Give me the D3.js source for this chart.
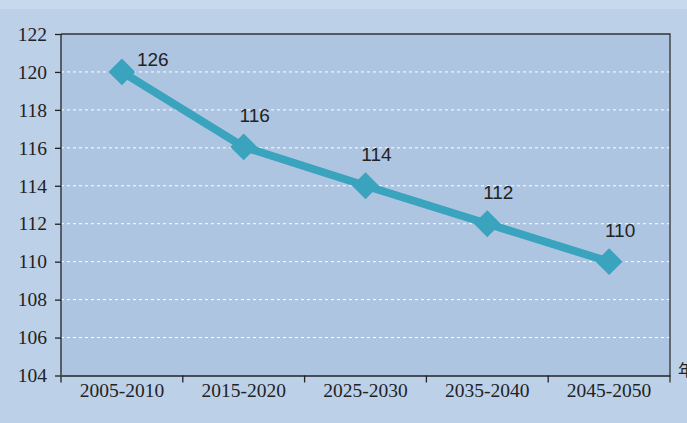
<!DOCTYPE html>
<html>
<head>
<meta charset="utf-8">
<script src="https://cdn.jsdelivr.net/npm/d3@7"></script>
<style>
  body { margin: 0; background: #bcd0e8; }
  svg { display: block; }
</style>
</head>
<body>
<div id="chart"></div>
<script>
// 1. SETUP
const width = 687;
const height = 423;
const margin = { top: 34, right: 17, bottom: 47.5, left: 61 };

// DATA
const periods = ["2005-2010", "2015-2020", "2025-2030", "2035-2040", "2045-2050"];
const values = [120, 116.05, 114, 112, 110];
const pointLabels = ["126", "116", "114", "112", "110"];
const yTicks = [104, 106, 108, 110, 112, 114, 116, 118, 120, 122];
const xUnit = "年";

const svg = d3.select("#chart")
    .append("svg")
    .attr("width", width)
    .attr("height", height)
    .attr("viewBox", [0, 0, width, height]);

// background + lighter top band
svg.append("rect").attr("width", width).attr("height", height).attr("fill", "#bcd0e8");
svg.append("rect").attr("width", width).attr("height", 9).attr("fill", "#c7d9ec");

// --- SCALES ---
const x = d3.scaleBand()
    .domain(periods)
    .range([margin.left, width - margin.right])
    .padding(0);

const y = d3.scaleLinear()
    .domain([104, 122])
    .range([height - margin.bottom, margin.top]);

const x0 = margin.left, x1 = width - margin.right;
const y0 = height - margin.bottom, y1 = margin.top;

// plot area
svg.append("rect")
    .attr("x", x0).attr("y", y1)
    .attr("width", x1 - x0).attr("height", y0 - y1)
    .attr("fill", "#aec5e1");

// --- GRID LINES ---
svg.append("g")
    .selectAll("line")
    .data(yTicks.filter(d => d > 104 && d < 122))
    .join("line")
    .attr("x1", x0).attr("x2", x1)
    .attr("y1", d => y(d)).attr("y2", d => y(d))
    .attr("stroke", "#ffffff")
    .attr("stroke-width", 1)
    .attr("stroke-dasharray", "3,3");

// frame: top + right
svg.append("path")
    .attr("d", `M${x0},${y1}H${x1}V${y0 + 7}`)
    .attr("fill", "none")
    .attr("stroke", "#333")
    .attr("stroke-width", 1.3);

// Y axis
svg.append("g")
    .attr("transform", `translate(${x0},0)`)
    .call(d3.axisLeft(y).tickValues(yTicks).tickSize(6).tickPadding(8))
    .call(g => g.selectAll("line, path").attr("stroke", "#222").attr("stroke-width", 1.3))
    .call(g => g.select(".domain").attr("d", `M0,${y0}V${y1}`))
    .call(g => g.selectAll("text")
        .attr("font-family", "'Liberation Serif', 'Times New Roman', serif")
        .attr("font-size", "19.5px")
        .attr("fill", "#222"));

// X axis labels (centered in bands)
svg.append("g")
    .attr("transform", `translate(0,${y0})`)
    .call(d3.axisBottom(x).tickSizeInner(0).tickSizeOuter(0).tickPadding(8))
    .call(g => g.select(".domain").attr("stroke", "#222").attr("stroke-width", 1.3))
    .call(g => g.selectAll("text")
        .attr("font-family", "'Liberation Serif', 'Times New Roman', serif")
        .attr("font-size", "19.5px")
        .attr("fill", "#222"));

// X ticks at band boundaries
svg.append("g")
    .selectAll("line")
    .data(periods)
    .join("line")
    .attr("x1", d => x(d)).attr("x2", d => x(d))
    .attr("y1", y0).attr("y2", y0 + 7)
    .attr("stroke", "#222")
    .attr("stroke-width", 1.3);

// unit label (cut off at the right edge)
svg.append("text")
    .attr("x", x1 + 8)
    .attr("y", y0)
    .attr("font-family", "'Noto Sans CJK SC', sans-serif")
    .attr("font-size", "16px")
    .attr("fill", "#222")
    .text(xUnit);

// --- LINE ---
const pts = periods.map((p, i) => ({ p, v: values[i], label: pointLabels[i] }));
const cx = d => x(d.p) + x.bandwidth() / 2;

svg.append("path")
    .datum(pts)
    .attr("d", d3.line().x(cx).y(d => y(d.v)))
    .attr("fill", "none")
    .attr("stroke", "#3aa3bd")
    .attr("stroke-width", 8)
    .attr("stroke-linejoin", "round");

// diamonds
svg.append("g")
    .selectAll("path")
    .data(pts)
    .join("path")
    .attr("d", d3.symbol(d3.symbolSquare, 360))
    .attr("transform", d => `translate(${cx(d)},${y(d.v)}) rotate(45)`)
    .attr("fill", "#3aa3bd");

// value labels
svg.append("g")
    .selectAll("text")
    .data(pts)
    .join("text")
    .attr("x", (d, i) => i === 0 ? cx(d) + 15 : cx(d) + 11)
    .attr("y", (d, i) => i === 0 ? y(d.v) - 6 : y(d.v) - 25)
    .attr("text-anchor", (d, i) => i === 0 ? "start" : "middle")
    .attr("font-family", "'Liberation Sans', Arial, sans-serif")
    .attr("font-size", "19px")
    .attr("fill", "#222")
    .text(d => d.label);
</script>
</body>
</html>
